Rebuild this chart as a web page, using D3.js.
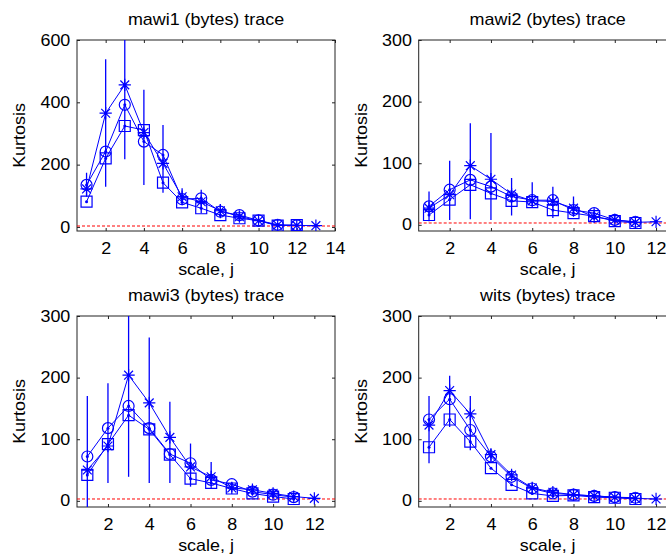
<!DOCTYPE html>
<html>
<head>
<meta charset="utf-8">
<script src="https://cdn.jsdelivr.net/npm/d3@7"></script>
<style>
  body { margin: 0; background: #fff; }
  svg { display: block; }
  text { font-family: "Liberation Sans", Arial, Helvetica, sans-serif; fill: #000; }
</style>
</head>
<body>
<div id="chart"></div>
<script>
// Kurtosis per wavelet scale j, four traces, three estimators (star / circle / square)
const scaleJ = [1, 2, 3, 4, 5, 6, 7, 8, 9, 10, 11, 12, 13];

const mawi1Star   = [122, 365, 456, 303, 204, 97, 81, 52, 33, 20, 6, 5, 4];
const mawi1Circle = [135, 242, 392, 274, 231, 89, 92, 49, 38, 21, 7, 5];
const mawi1Square = [81, 220, 324, 311, 142, 79, 60, 38, 28, 20, 4, 6];
const mawi1Lo     = [97, 129, 217, 135, 110, 70, 44, 28, 17, 12, 2, 1, 1];
const mawi1Hi     = [174, 538, 640, 440, 327, 124, 119, 74, 52, 30, 12, 9, 8];

const mawi2Star   = [27, 49, 96, 74, 50, 39, 38, 27, 13, 8, 4, 5];
const mawi2Circle = [30, 57, 73, 62, 46, 40, 40, 24, 19, 8, 5];
const mawi2Square = [16, 41, 65, 51, 39, 37, 24, 19, 14, 6, 3];
const mawi2Lo     = [6, 8, 9, 8, 15, 30, 11, 13, 8, 4, 2, 2];
const mawi2Hi     = [54, 104, 165, 149, 76, 69, 62, 46, 27, 14, 8, 8];

const mawi3Star   = [50, 89, 204, 159, 103, 55, 39, 21, 18, 12, 7, 4];
const mawi3Circle = [72, 118, 154, 118, 76, 61, 34, 27, 15, 10, 6];
const mawi3Square = [42, 92, 139, 116, 75, 36, 29, 20, 12, 7, 3];
const mawi3Lo     = [-20, 29, 39, 29, 29, 23, 20, 14, 10, 6, 3, 2];
const mawi3Hi     = [170, 191, 320, 265, 161, 93, 63, 30, 25, 17, 11, 7];

const witsStar    = [123, 179, 141, 75, 42, 21, 14, 10, 8, 6, 4, 3];
const witsCircle  = [132, 165, 115, 72, 39, 20, 12, 10, 8, 6, 5];
const witsSquare  = [87, 132, 96, 53, 26, 12, 8, 9, 6, 5, 3];
const witsLo      = [61, 120, 82, 63, 34, 12, 9, 7, 5, 4, 2, 1];
const witsHi      = [170, 203, 170, 85, 50, 29, 19, 14, 11, 9, 6, 5];

const titles = ["mawi1 (bytes) trace", "mawi2 (bytes) trace", "mawi3 (bytes) trace", "wits (bytes) trace"];
const yTicks600 = [0, 200, 400, 600];
const yTicks300 = [0, 100, 200, 300];
const xTicks = [2, 4, 6, 8, 10, 12, 14];
const gaussKurtosis = 3;

const panels = [
    { title: titles[0], star: mawi1Star, circle: mawi1Circle, square: mawi1Square, lo: mawi1Lo, hi: mawi1Hi,
      xMax: 14, yDomain: [-13, 600], yTicks: yTicks600, left: 77, top: 40 },
    { title: titles[1], star: mawi2Star, circle: mawi2Circle, square: mawi2Square, lo: mawi2Lo, hi: mawi2Hi,
      xMax: 13, yDomain: [-10, 300], yTicks: yTicks300, left: 418.7, top: 40 },
    { title: titles[2], star: mawi3Star, circle: mawi3Circle, square: mawi3Square, lo: mawi3Lo, hi: mawi3Hi,
      xMax: 13, yDomain: [-10, 300], yTicks: yTicks300, left: 77, top: 316 },
    { title: titles[3], star: witsStar, circle: witsCircle, square: witsSquare, lo: witsLo, hi: witsHi,
      xMax: 13, yDomain: [-10, 300], yTicks: yTicks300, left: 418.7, top: 316 }
];

const W = 666, H = 558;
const plotW = 258, plotH = 191;
const BLUE = "#0000ff";
const FONT = 16, STRETCH = 1.12;

// MATLAB style '*' marker as a custom d3 symbol type
const symbolStar = {
    draw(ctx, size) {
        const r = Math.sqrt(size) / 2, d = r * 0.72;
        ctx.moveTo(-r, 0); ctx.lineTo(r, 0);
        ctx.moveTo(0, -r); ctx.lineTo(0, r);
        ctx.moveTo(-d, -d); ctx.lineTo(d, d);
        ctx.moveTo(-d, d); ctx.lineTo(d, -d);
    }
};

const svg = d3.select("#chart").append("svg")
    .attr("width", W)
    .attr("height", H);

panels.forEach((p, i) => {
    const x = d3.scaleLinear().domain([0.5, p.xMax]).range([0, plotW]);
    const y = d3.scaleLinear().domain(p.yDomain).range([plotH, 0]);

    const g = svg.append("g").attr("transform", `translate(${p.left},${p.top})`);

    g.append("clipPath").attr("id", "clip" + i)
        .append("rect").attr("width", plotW).attr("height", plotH);

    // axes with inward ticks on all four sides
    const visibleX = xTicks.filter(t => t <= p.xMax);
    const bottom = g.append("g").attr("transform", `translate(0,${plotH})`)
        .call(d3.axisBottom(x).tickValues(visibleX).tickSize(-3).tickSizeOuter(0).tickPadding(12));
    const left = g.append("g")
        .call(d3.axisLeft(y).tickValues(p.yTicks).tickSize(-3).tickSizeOuter(0).tickPadding(6));
    g.append("g").call(d3.axisTop(x).tickValues(visibleX).tickSize(-3).tickSizeOuter(0).tickFormat(""));
    g.append("g").attr("transform", `translate(${plotW},0)`)
        .call(d3.axisRight(y).tickValues(p.yTicks).tickSize(-3).tickSizeOuter(0).tickFormat(""));

    g.selectAll(".domain").remove();
    g.selectAll(".tick line").attr("stroke", "#222");
    [bottom, left].forEach(ax => ax.selectAll("text")
        .attr("font-size", FONT)
        .attr("font-family", null)
        .attr("transform", `scale(${STRETCH},1)`));

    g.append("rect")
        .attr("width", plotW).attr("height", plotH)
        .attr("fill", "none").attr("stroke", "#222").attr("stroke-width", 1);

    // data layer, clipped to the axes box
    const data = g.append("g").attr("clip-path", `url(#clip${i})`);

    data.append("line")
        .attr("x1", 0).attr("x2", plotW)
        .attr("y1", y(gaussKurtosis)).attr("y2", y(gaussKurtosis))
        .attr("stroke", "#ff0000").attr("stroke-dasharray", "3,2");

    data.selectAll(".err")
        .data(p.lo.map((lo, k) => ({ j: scaleJ[k], lo, hi: p.hi[k] })))
        .enter().append("line")
        .attr("class", "err")
        .attr("x1", d => x(d.j)).attr("x2", d => x(d.j))
        .attr("y1", d => y(d.lo)).attr("y2", d => y(d.hi))
        .attr("stroke", BLUE).attr("stroke-width", 1.3);

    const series = [
        { values: p.star, type: symbolStar, size: 150 },
        { values: p.circle, type: d3.symbolCircle, size: 95 },
        { values: p.square, type: d3.symbolSquare, size: 121 }
    ];

    const line = d3.line().x(d => x(d.j)).y(d => y(d.v));

    series.forEach(s => {
        const pts = s.values.map((v, k) => ({ j: scaleJ[k], v }));
        data.append("path")
            .datum(pts)
            .attr("d", line)
            .attr("fill", "none")
            .attr("stroke", BLUE)
            .attr("stroke-width", 1);
        data.selectAll(null)
            .data(pts)
            .enter().append("path")
            .attr("transform", d => `translate(${x(d.j)},${y(d.v)})`)
            .attr("d", d3.symbol().type(s.type).size(s.size))
            .attr("fill", "none")
            .attr("stroke", BLUE)
            .attr("stroke-width", 1.2);
        // small dot at each data point
        data.selectAll(null)
            .data(pts)
            .enter().append("circle")
            .attr("cx", d => x(d.j)).attr("cy", d => y(d.v))
            .attr("r", 1.5).attr("fill", BLUE);
    });

    // labels
    g.append("text")
        .attr("transform", `translate(${plotW / 2},-15) scale(${STRETCH},1)`)
        .attr("text-anchor", "middle")
        .attr("font-size", FONT)
        .text(p.title);

    g.append("text")
        .attr("transform", `translate(${plotW / 2},${plotH + 44}) scale(${STRETCH},1)`)
        .attr("text-anchor", "middle")
        .attr("font-size", FONT)
        .text("scale, j");

    g.append("text")
        .attr("transform", `translate(-52,${plotH / 2}) rotate(-90) scale(${STRETCH},1)`)
        .attr("text-anchor", "middle")
        .attr("font-size", FONT)
        .text("Kurtosis");
});
</script>
</body>
</html>
